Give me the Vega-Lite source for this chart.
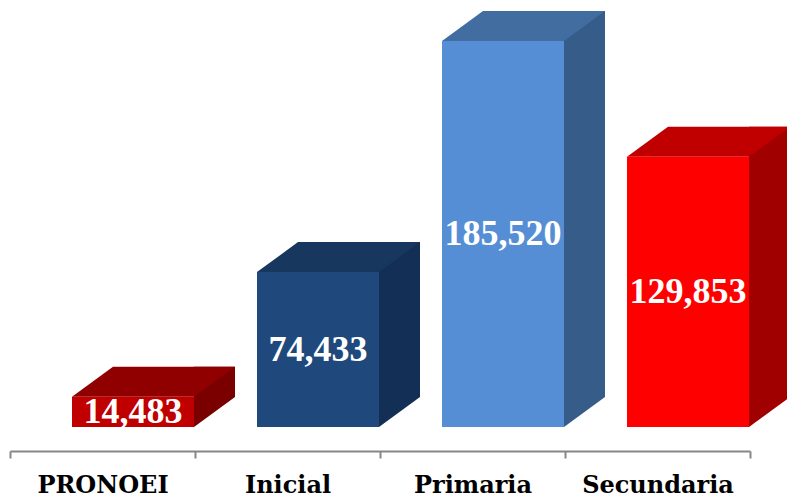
{
  "$schema": "https://vega.github.io/schema/vega-lite/v6.json",
  "width": 740,
  "height": 427,
  "autosize": "none",
  "padding": {"left": 10, "top": 0, "right": 37, "bottom": 71},
  "background": "white",
  "config": {"view": {"stroke": null}},
  "data": {"values": [
    {"nivel": "PRONOEI", "alumnos": 14483},
    {"nivel": "Inicial", "alumnos": 74433},
    {"nivel": "Primaria", "alumnos": 185520},
    {"nivel": "Secundaria", "alumnos": 129853}
  ]},
  "encoding": {
    "x": {
      "field": "nivel", "type": "nominal", "sort": null,
      "scale": {"paddingInner": 0, "paddingOuter": 0},
      "axis": {
        "title": null, "labelAngle": 0, "offset": 24, "tickBand": "extent",
        "domainColor": "#878787", "domainWidth": 2, "tickColor": "#878787", "tickWidth": 2, "tickSize": 7,
        "labelFont": "DejaVu Serif", "labelFontWeight": "bold", "labelFontSize": 24, "labelColor": "#000000",
        "labelBaseline": "alphabetic", "labelPadding": 34
      }
    }
  },
  "layer": [
    {
      "mark": {"type": "bar", "width": 41, "xOffset": 112, "yOffset": -30, "y2Offset": -30},
      "encoding": {
        "y": {"field": "alumnos", "type": "quantitative", "scale": {"domain": [0, 205200], "nice": false, "zero": true}, "axis": null},
        "y2": {"datum": 0},
        "color": {"field": "nivel", "type": "nominal", "legend": null,
          "scale": {"domain": ["PRONOEI", "Inicial", "Primaria", "Secundaria"], "range": ["#7A0000", "#142F55", "#365D8A", "#A00000"]}}
      }
    },
    {
      "mark": {"type": "point", "shape": "M91.5,0 L91.5,-31 L132.5,-31 L132.5,-30 Z", "size": 4, "filled": true, "opacity": 1, "strokeWidth": 0},
      "encoding": {
        "y": {"datum": 0, "type": "quantitative", "scale": {"domain": [0, 205200], "nice": false, "zero": true}, "axis": null},
        "color": {"field": "nivel", "type": "nominal", "legend": null,
          "scale": {"domain": ["PRONOEI", "Inicial", "Primaria", "Secundaria"], "range": ["#7A0000", "#142F55", "#365D8A", "#A00000"]}}
      }
    },
    {
      "mark": {"type": "point", "shape": "M-30.5,0 L91.5,0 L132.5,-30 L10.5,-30 Z", "size": 4, "filled": true, "opacity": 1, "strokeWidth": 0},
      "encoding": {
        "y": {"field": "alumnos", "type": "quantitative", "scale": {"domain": [0, 205200], "nice": false, "zero": true}, "axis": null},
        "color": {"field": "nivel", "type": "nominal", "legend": null,
          "scale": {"domain": ["PRONOEI", "Inicial", "Primaria", "Secundaria"], "range": ["#900000", "#17375E", "#416DA0", "#C00000"]}}
      }
    },
    {
      "mark": {"type": "bar", "width": 122, "xOffset": 30.5},
      "encoding": {
        "y": {"field": "alumnos", "type": "quantitative", "scale": {"domain": [0, 205200], "nice": false, "zero": true}, "axis": null},
        "y2": {"datum": 0},
        "color": {"field": "nivel", "type": "nominal", "legend": null,
          "scale": {"domain": ["PRONOEI", "Inicial", "Primaria", "Secundaria"], "range": ["#C00000", "#1F497D", "#558ED5", "#FF0000"]}}
      }
    },
    {
      "mark": {"type": "text", "xOffset": 30.5, "baseline": "middle", "align": "center", "font": "Liberation Serif", "fontWeight": "bold", "fontSize": 36, "color": "#FFFFFF"},
      "encoding": {
        "y": {"field": "alumnos", "type": "quantitative", "scale": {"domain": [0, 410400], "nice": false, "zero": true}, "axis": null},
        "text": {"field": "alumnos", "type": "quantitative", "format": ","}
      }
    }
  ],
  "resolve": {"scale": {"color": "independent", "y": "independent"}, "axis": {"y": "independent"}}
}
